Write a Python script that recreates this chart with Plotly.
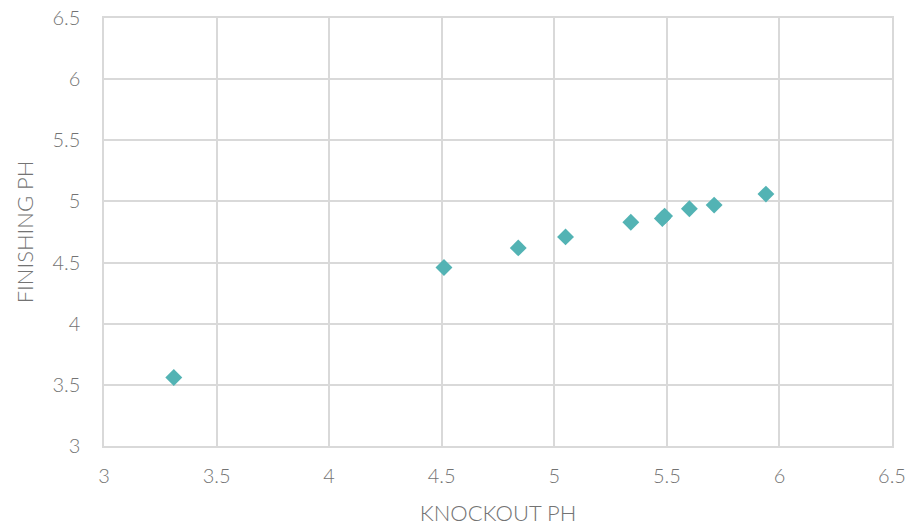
import plotly.graph_objects as go

# Knockout pH vs finishing pH measurements
knockout_ph = [3.31, 4.51, 4.84, 5.05, 5.34, 5.48, 5.49, 5.60, 5.71, 5.94]
finishing_ph = [3.56, 4.46, 4.62, 4.71, 4.83, 4.86, 4.88, 4.94, 4.97, 5.06]

tick_vals = [3, 3.5, 4, 4.5, 5, 5.5, 6, 6.5]
tick_text = ["3", "3.5", "4", "4.5", "5", "5.5", "6", "6.5"]

grid_color = "#d9d9d9"
text_color = "#737373"
font_family = "Lato, 'Open Sans', sans-serif"
tick_font = dict(family=font_family, size=20, color=text_color, weight=300)
title_font = dict(family=font_family, size=22, color=text_color, weight=300)

fig = go.Figure(
    go.Scatter(
        x=knockout_ph,
        y=finishing_ph,
        mode="markers",
        marker=dict(symbol="diamond", size=13, color="#53B3B4", line=dict(width=0)),
        hoverinfo="x+y",
    )
)

axis_common = dict(
    range=[3, 6.5],
    tickvals=tick_vals,
    ticktext=tick_text,
    showgrid=True,
    gridcolor=grid_color,
    gridwidth=1.5,
    zeroline=False,
    showline=True,
    linecolor=grid_color,
    linewidth=1.5,
    mirror=True,
    ticks="",
    automargin=False,
    tickfont=tick_font,
)

fig.update_xaxes(
    **axis_common,
    title=dict(text="KNOCKOUT PH", font=title_font, standoff=20),
    ticklabelstandoff=11,
)
fig.update_yaxes(
    **axis_common,
    title=dict(text="FINISHING PH", font=title_font, standoff=13),
    ticklabelstandoff=18,
)

fig.update_layout(
    width=912,
    height=528,
    margin=dict(l=104, r=20, t=18, b=82),
    paper_bgcolor="white",
    plot_bgcolor="white",
    showlegend=False,
)

fig.write_html("out.html")
